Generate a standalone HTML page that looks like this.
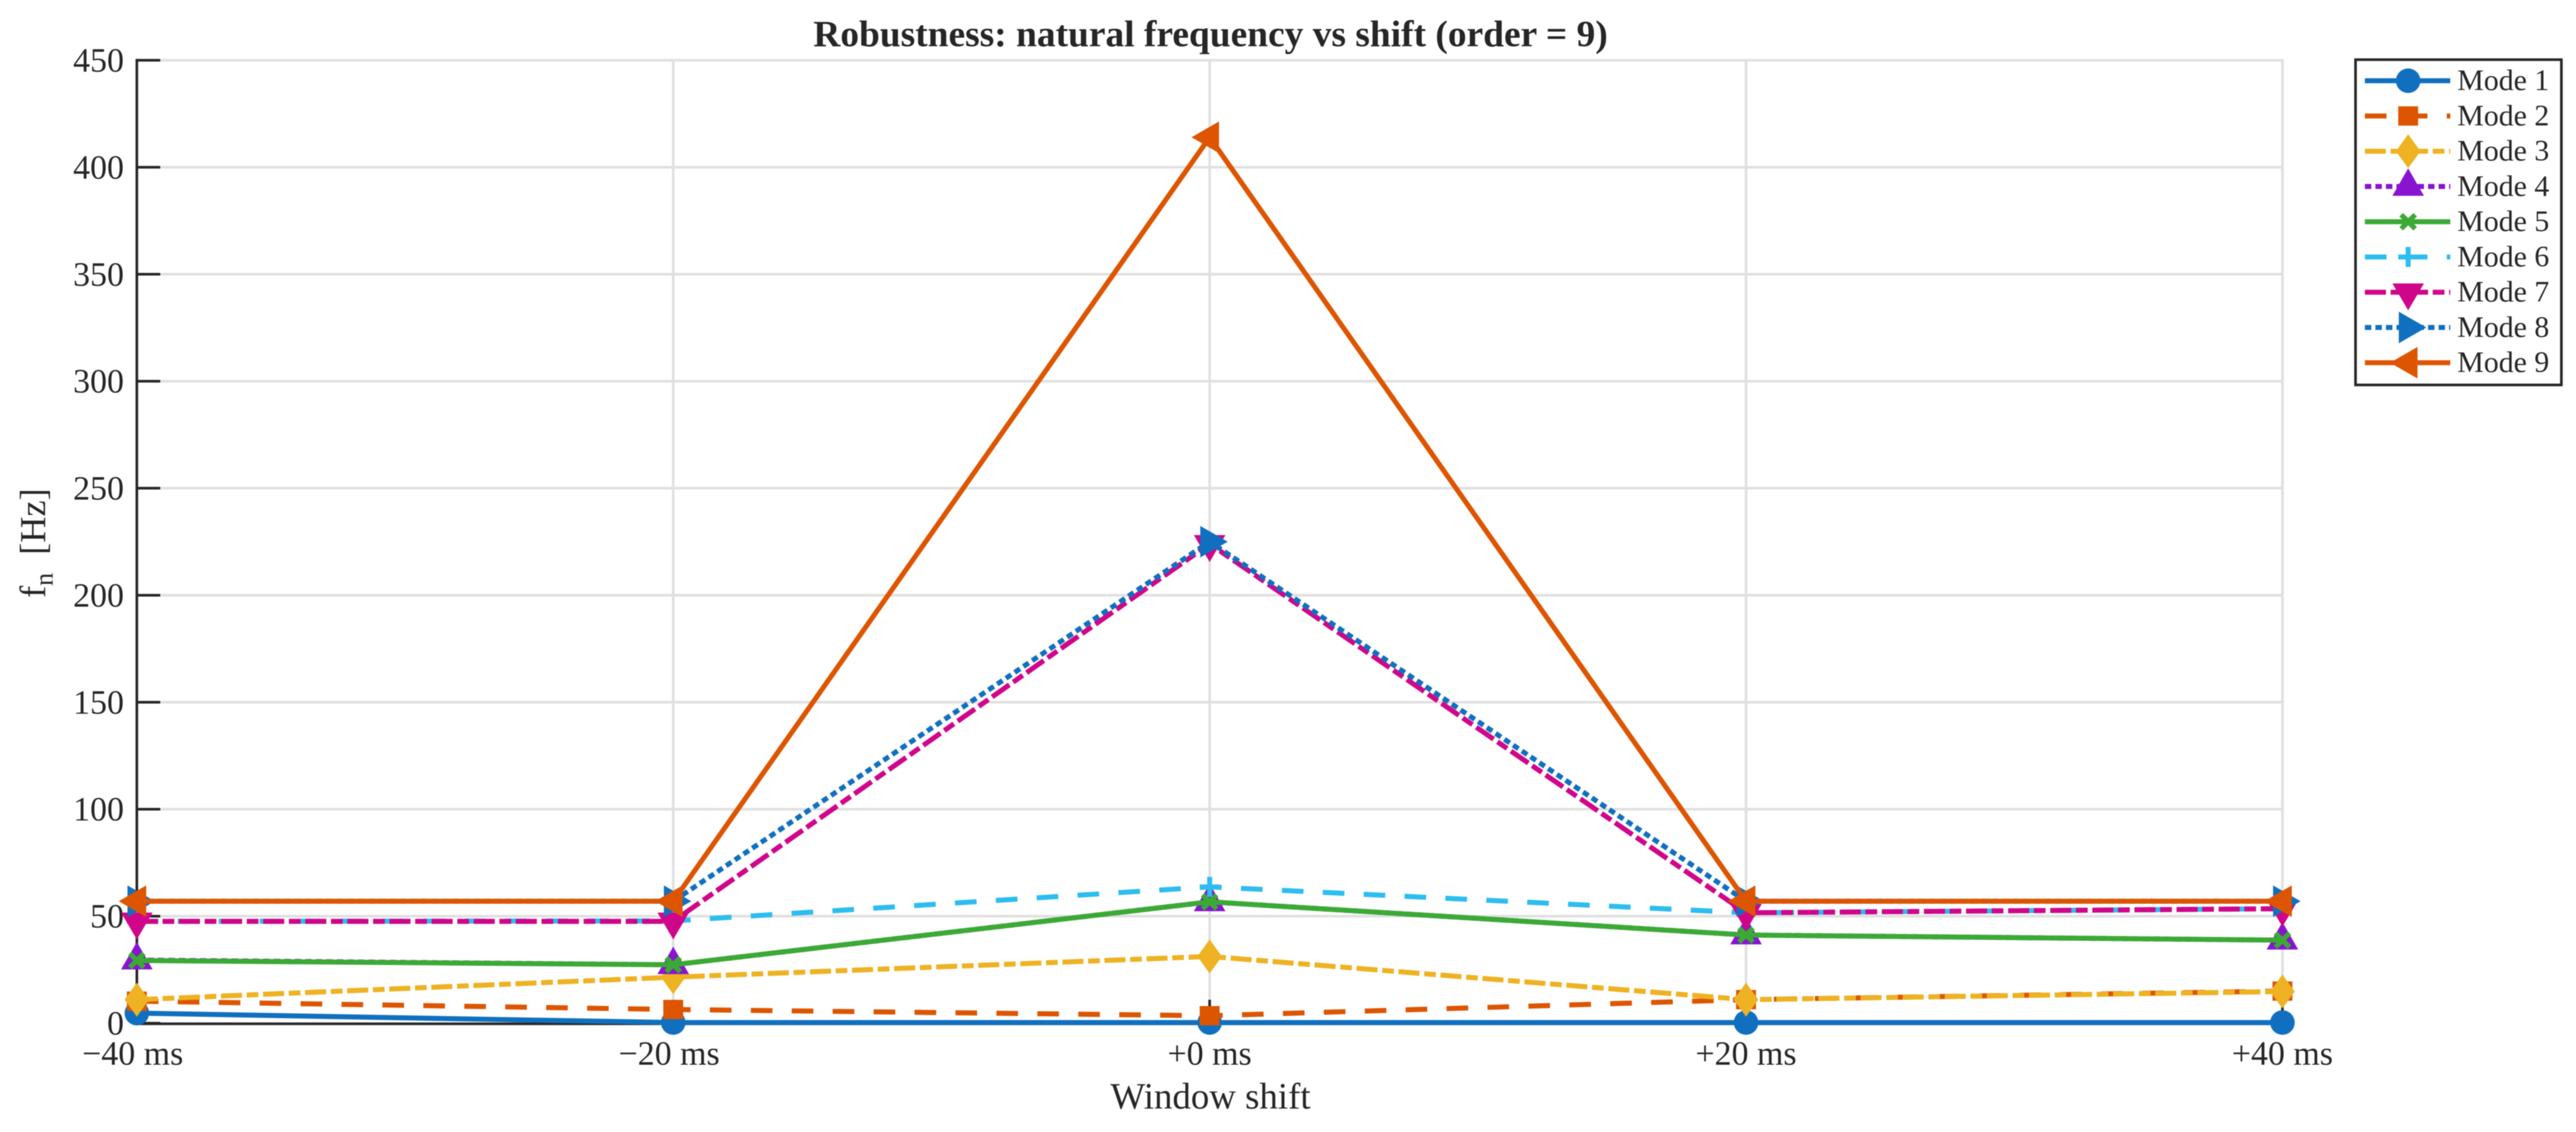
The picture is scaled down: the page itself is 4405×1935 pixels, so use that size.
<!DOCTYPE html>
<html lang="en">
<head>
<meta charset="utf-8">
<title>Robustness: natural frequency vs shift (order = 9)</title>
<style>
html,body{margin:0;padding:0;background:#fff;}
body{width:4405px;height:1935px;overflow:hidden;}
svg{display:block;filter:blur(0.9px);}
text{font-family:"Liberation Serif",serif;fill:#262626;}
</style>
</head>
<body>
<svg id="chart" xmlns="http://www.w3.org/2000/svg" width="4405" height="1935" viewBox="0 0 4405 1935">
  <rect x="0" y="0" width="4405" height="1935" fill="#ffffff"/>
  <g id="grid"></g>
  <g id="axes"></g>
  <g id="series"></g>
  <text x="2070" y="79" font-size="64" font-weight="bold" text-anchor="middle">Robustness: natural frequency vs shift (order = 9)</text>
  <text x="2070" y="1895" font-size="63" text-anchor="middle">Window shift</text>
  <text transform="translate(77,1022) rotate(-90)" font-size="62">f<tspan font-size="44" dy="13">n</tspan><tspan dy="-13" xml:space="preserve">  [Hz]</tspan></text>
  <g id="legend"></g>
</svg>
<script>
const categories = ['\u221240 ms', '\u221220 ms', '+0 ms', '+20 ms', '+40 ms'];
const yTicks = [0, 50, 100, 150, 200, 250, 300, 350, 400, 450];
const seriesNames = ['Mode 1', 'Mode 2', 'Mode 3', 'Mode 4', 'Mode 5', 'Mode 6', 'Mode 7', 'Mode 8', 'Mode 9'];
const mode1 = [4.7, 0.3, 0.3, 0.3, 0.3];
const mode2 = [10.3, 6.4, 3.5, 11, 15];
const mode3 = [11, 21.5, 31.2, 11, 14.8];
const mode4 = [29.5, 27.3, 56.7, 41.2, 38.8];
const mode5 = [29.3, 27.3, 56.7, 41.2, 38.8];
const mode6 = [47.6, 47.8, 63.7, 51.6, 53.5];
const mode7 = [47.6, 47.6, 224, 51.6, 53.5];
const mode8 = [57, 57, 225, 57, 57];
const mode9 = [57, 57, 414, 57, 57];
const allSeries = [mode1, mode2, mode3, mode4, mode5, mode6, mode7, mode8, mode9];

const colors = ['#1070BF', '#DD5500', '#EEB222', '#8814D0', '#3BAA35', '#2DBDF0', '#D0068A', '#1070BF', '#DD5500'];
const dashes = ['', '37 33', '36 8 20 8', '11 7', '', '37 33', '36 8 20 8', '11 7', ''];
const markers = ['circle', 'square', 'diamond', 'up', 'x', 'plus', 'down', 'right', 'left'];

const NS = 'http://www.w3.org/2000/svg';
const plot = { left: 234, right: 3903, top: 103, bottom: 1749 };
const yMax = 450;
const tickLength = 40;
const lineWidth = 8.6;
const ink = '#262626';

function xScale(i) {
  return plot.left + i * (plot.right - plot.left) / (categories.length - 1);
}
function yScale(v) {
  return plot.bottom - v * (plot.bottom - plot.top) / yMax;
}
function make(tag, attrs, parent) {
  const el = document.createElementNS(NS, tag);
  for (const k in attrs) el.setAttribute(k, attrs[k]);
  parent.appendChild(el);
  return el;
}
function markerShape(kind, cx, cy, color, parent) {
  let el;
  const poly = function (pts) {
    return make('polygon', {
      points: pts.map(function (p) { return (cx + p[0]) + ',' + (cy + p[1]); }).join(' '),
      fill: color
    }, parent);
  };
  const cross = function (a) {
    return make('path', {
      d: 'M' + (cx - a) + ' ' + (cy - a) + 'L' + (cx + a) + ' ' + (cy + a) + 'M' + (cx - a) + ' ' + (cy + a) + 'L' + (cx + a) + ' ' + (cy - a),
      stroke: color, 'stroke-width': 8.6, fill: 'none'
    }, parent);
  };
  if (kind === 'circle') el = make('circle', { cx: cx, cy: cy, r: 21, fill: color }, parent);
  if (kind === 'square') el = make('rect', { x: cx - 17, y: cy - 16.5, width: 34, height: 33, fill: color }, parent);
  if (kind === 'diamond') el = poly([[0, -29], [21, 0], [0, 29], [-21, 0]]);
  if (kind === 'up') el = poly([[0, -31], [27, 16], [-27, 16]]);
  if (kind === 'down') el = poly([[0, 31], [27, -15], [-27, -15]]);
  if (kind === 'right') el = poly([[31, 0], [-16, -27], [-16, 27]]);
  if (kind === 'left') el = poly([[-31, 0], [16, -27], [16, 27]]);
  if (kind === 'x') el = cross(12);
  if (kind === 'plus') {
    el = make('path', {
      d: 'M' + (cx - 17) + ' ' + cy + 'H' + (cx + 17) + 'M' + cx + ' ' + (cy - 17) + 'V' + (cy + 17),
      stroke: color, 'stroke-width': 8.6, fill: 'none'
    }, parent);
  }
  
  
  return el;
}

const gridG = document.getElementById('grid');
const axesG = document.getElementById('axes');
const seriesG = document.getElementById('series');
const legendG = document.getElementById('legend');

yTicks.forEach(function (t) {
  const y = yScale(t);
  if (t > 0) {
    const g = make('line', { x1: plot.left, x2: plot.right + 2, y1: y, y2: y, stroke: '#E0E0E0', 'stroke-width': 4.5 }, gridG);
    
    
  }
  const tick = make('line', { x1: plot.left, x2: plot.left + tickLength, y1: y, y2: y, stroke: ink, 'stroke-width': 4.5 }, axesG);
  
  
  const label = make('text', { x: 212, y: y + 19.5, 'font-size': 58, 'text-anchor': 'end' }, axesG);
  label.textContent = String(t);
  
  
});

categories.forEach(function (c, i) {
  const x = xScale(i);
  if (i > 0) {
    const g = make('line', { x1: x, x2: x, y1: plot.top, y2: plot.bottom, stroke: '#E0E0E0', 'stroke-width': 4.5 }, gridG);
    
    
  }
  const tick = make('line', { x1: x, x2: x, y1: plot.bottom, y2: plot.bottom - tickLength, stroke: ink, 'stroke-width': 4.5 }, axesG);
  
  
  const shift = c.charAt(0) === '\u2212' ? -7 : 0;
  const label = make('text', { x: x + shift, y: 1820, 'font-size': 58, 'text-anchor': 'middle' }, axesG);
  label.textContent = c;
  
  
});

const yAxis = make('line', { x1: plot.left, x2: plot.left, y1: plot.top - 2.25, y2: plot.bottom + 2.25, stroke: ink, 'stroke-width': 4.5 }, axesG);


const xAxis = make('line', { x1: plot.left - 2.25, x2: plot.right + 2.25, y1: plot.bottom + 1, y2: plot.bottom + 1, stroke: ink, 'stroke-width': 4.5 }, axesG);



allSeries.forEach(function (values, s) {
  const g = make('g', {}, seriesG);
  
  
  const pts = values.map(function (v, i) { return xScale(i) + ',' + yScale(v); }).join(' ');
  const line = make('polyline', {
    points: pts, fill: 'none', stroke: colors[s], 'stroke-width': lineWidth,
    'stroke-linejoin': 'round', 'stroke-dasharray': dashes[s] || 'none'
  }, g);
  
  
  values.forEach(function (v, i) {
    markerShape(markers[s], xScale(i), yScale(v), colors[s], g);
  });
});

const legendBox = make('rect', { x: 4028, y: 102, width: 352, height: 556, fill: '#ffffff', stroke: ink, 'stroke-width': 4.5 }, legendG);


seriesNames.forEach(function (name, s) {
  const y = 138 + s * 60.25;
  const g = make('g', {}, legendG);
  
  
  const line = make('line', {
    x1: 4044, x2: 4190, y1: y, y2: y, stroke: colors[s], 'stroke-width': lineWidth,
    'stroke-dasharray': dashes[s] || 'none'
  }, g);
  
  
  markerShape(markers[s], 4118, y, colors[s], g);
  const label = make('text', { x: 4202, y: y + 16, 'font-size': 51 }, g);
  label.textContent = name;
  
  
});
</script>
</body>
</html>
